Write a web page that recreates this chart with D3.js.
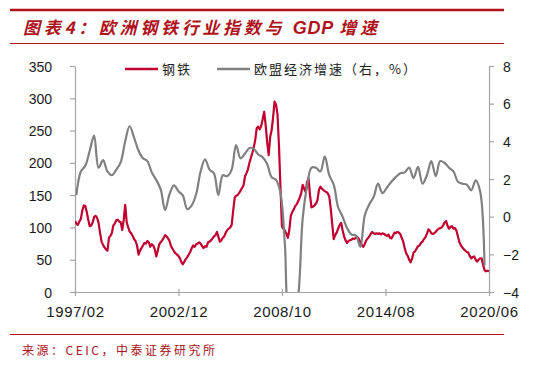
<!DOCTYPE html>
<meta charset="utf-8">
<style>
body { margin: 0; background: #fff; }
svg { font-family: "Liberation Sans", Arial, sans-serif; }
.title { fill: #b0121b; font-family: "Noto Sans CJK SC", sans-serif; font-size: 17px; font-weight: bold; font-style: italic; letter-spacing: 3.7px; }
.title .latin { font-family: "Liberation Sans", Arial, sans-serif; font-size: 18px; letter-spacing: 0.8px; }
.source { fill: #a8141c; font-family: "Noto Sans CJK SC", sans-serif; font-size: 12px; letter-spacing: 2.5px; }
.legend text { font-family: "Noto Sans CJK SC", sans-serif; font-size: 13px; fill: #222; letter-spacing: 2px; }
.axis path, .axis line { stroke: #a6a6a6; stroke-width: 1.2px; }
.axis text { fill: #1a1a1a; font-size: 14px; }
.x.axis text { font-size: 15px; letter-spacing: 0.6px; }
</style>
<svg></svg>
<script src="https://d3js.org/d3.v7.min.js"></script>
<script>

// 钢铁指数, monthly 1997/02 - 2020/06
var steelIndex = [
  110, 106, 104, 109, 113, 126, 134, 133, 124, 112, 102,       // 1997
  103, 108, 116, 118, 115, 107, 92, 78, 73, 69, 66, 64,        // 1998
  84, 87, 91, 103, 106, 111, 112, 109, 108, 96, 112, 135,      // 1999
  108, 100, 94, 91, 87, 82, 79, 72, 58, 64, 68, 72,            // 2000
  76, 75, 79, 77, 70, 74, 72, 66, 55, 64, 74, 77,              // 2001
  80, 84, 88, 86, 83, 79, 71, 67, 63, 60, 58, 56,              // 2002
  52, 46, 43, 47, 51, 54, 58, 62, 68, 72, 70, 74,              // 2003
  75, 77, 75, 71, 68, 71, 70, 77, 78, 80, 83, 86,              // 2004
  88, 93, 86, 78, 80, 84, 86, 92, 96, 98, 100, 104,            // 2005
  126, 146, 149, 150, 153, 157, 161, 165, 179, 184, 190, 200,  // 2006
  208, 216, 224, 236, 254, 256, 252, 257, 268, 279, 258, 232,  // 2007
  212, 240, 250, 270, 295, 290, 275, 225, 160, 101, 98, 95,    // 2008
  90, 84, 96, 118, 124, 128, 133, 136, 141, 146, 153, 166,     // 2009
  160, 155, 170, 176, 150, 131, 132, 134, 137, 142, 158, 163,  // 2010
  160, 158, 156, 155, 153, 148, 130, 105, 82, 88, 92, 98,      // 2011
  104, 107, 96, 86, 80, 76, 79, 80, 81, 83, 82, 84,            // 2012
  85, 82, 77, 73, 70, 74, 80, 83, 86, 90, 93, 91,              // 2013
  90, 91, 90, 91, 89, 91, 90, 88, 87, 89, 84, 83,              // 2014
  87, 92, 91, 93, 92, 90, 84, 78, 68, 60, 56, 50,              // 2015
  46, 52, 61, 63, 67, 71, 72, 76, 78, 82, 85, 90,              // 2016
  97, 95, 91, 90, 91, 93, 96, 98, 99, 100, 103, 108,           // 2017
  110, 102, 98, 101, 102, 98, 99, 95, 86, 77, 72, 69,          // 2018
  66, 64, 62, 61, 56, 52, 54, 55, 50, 47, 50, 52,              // 2019
  52, 42, 34, 32, 33, 32                                       // 2020
];

// 欧盟经济增速 (%), quarterly 1997Q1 - 2020Q1
var gdpGrowth = [
  1.15, 2.4, 2.7, 3.5,     // 1997
  4.3, 2.6, 3.0, 2.4,      // 1998
  2.2, 2.5, 2.9, 4.0,      // 1999
  4.8, 4.2, 3.5, 3.1,      // 2000
  2.95, 2.35, 1.95, 1.45,  // 2001
  0.35, 1.2, 1.66, 1.35,   // 2002
  1.13, 0.4, 0.6, 1.2,     // 2003
  2.4, 3.05, 2.5, 2.3,     // 2004
  1.15, 2.2, 2.15, 2.5,    // 2005
  3.8, 3.1, 3.35, 3.65,    // 2006
  3.6, 3.3, 3.15, 2.8,     // 2007
  2.1, 1.95, 1.25, -1.5,   // 2008
  -5.2, -5.4, -4.2, -0.1,  // 2009
  1.6, 2.6, 2.6, 2.4,      // 2010
  3.2, 2.2, 1.7, 0.5,      // 2011
  0.0, -0.6, -0.95, -1.0,  // 2012
  -1.6, 0.07, 0.65, 1.05,  // 2013
  1.75, 1.25, 1.55, 1.85,  // 2014
  2.1, 2.3, 2.35, 2.6,     // 2015
  2.05, 2.64, 1.75, 2.2,   // 2016
  2.95, 2.15, 2.95, 2.85,  // 2017
  2.6, 2.4, 1.85, 1.75,    // 2018
  1.7, 1.4, 1.93, 1.35,    // 2019
  -2.6                     // 2020
];

var xTickLabels = ['1997/02', '2002/12', '2008/10', '2014/08', '2020/06'];
var leftTicks = [0, 50, 100, 150, 200, 250, 300, 350];
var rightTicks = [-4, -2, 0, 2, 4, 6, 8];

var width = 540, height = 374;
var plot = { left: 75, right: 489, top: 66, bottom: 292 };

var svg = d3.select('svg').attr('width', width).attr('height', height);

var parse = d3.timeParse('%Y/%m');

var steelData = steelIndex.map(function (v, i) {
  return { date: new Date(1997, 1 + i, 1), value: v };
});
var gdpData = gdpGrowth.map(function (v, i) {
  return { date: new Date(1997, 2 + i * 3, 1), value: v };
});

var x = d3.scaleTime()
  .domain([parse(xTickLabels[0]), parse(xTickLabels[xTickLabels.length - 1])])
  .range([plot.left, plot.right]);
var yL = d3.scaleLinear().domain([0, 350]).range([plot.bottom, plot.top]);
var yR = d3.scaleLinear().domain([-4, 8]).range([plot.bottom, plot.top]);

// header
svg.append('line')
  .attr('x1', 10).attr('x2', 504).attr('y1', 10).attr('y2', 10)
  .attr('stroke', '#b0121b').attr('stroke-width', 2.5);
var title = svg.append('text').attr('class', 'title')
  .attr('x', 23).attr('y', 34);
title.append('tspan').text('图表4：欧洲钢铁行业指数与 ');
title.append('tspan').attr('class', 'latin').text('GDP ');
title.append('tspan').text('增速');
svg.append('line')
  .attr('x1', 10).attr('x2', 504).attr('y1', 43.5).attr('y2', 43.5)
  .attr('stroke', '#b0121b').attr('stroke-width', 1);

// footer
svg.append('line')
  .attr('x1', 10).attr('x2', 504).attr('y1', 334.5).attr('y2', 334.5)
  .attr('stroke', '#b0121b').attr('stroke-width', 1);
svg.append('text').attr('class', 'source')
  .attr('x', 22).attr('y', 355)
  .text('来源：CEIC，中泰证券研究所');

// axes
svg.append('g')
  .attr('class', 'y axis')
  .attr('transform', 'translate(' + plot.left + ',0)')
  .call(d3.axisLeft(yL).tickValues(leftTicks).tickSize(5).tickSizeOuter(0).tickPadding(18))
  .call(function (g) { g.selectAll('text').attr('dy', '0.36em'); });

svg.append('g')
  .attr('class', 'y axis')
  .attr('transform', 'translate(' + plot.right + ',0)')
  .call(d3.axisRight(yR).tickValues(rightTicks).tickSize(5).tickSizeOuter(0).tickPadding(9))
  .call(function (g) { g.selectAll('text').attr('dy', '0.36em'); });

var xAxis = svg.append('g')
  .attr('class', 'x axis')
  .attr('transform', 'translate(0,' + plot.bottom + ')')
  .call(d3.axisBottom(x)
    .tickValues(xTickLabels.map(parse))
    .tickFormat(d3.timeFormat('%Y/%m'))
    .tickSize(4).tickSizeOuter(0).tickPadding(10));
xAxis.selectAll('.tick line').attr('y1', -3);
xAxis.select('.domain').attr('d', 'M' + (plot.left - 5) + ',0.5H' + (plot.right + 5));

// clip
svg.append('clipPath').attr('id', 'plotClip')
  .append('rect')
  .attr('x', plot.left).attr('y', plot.top - 10)
  .attr('width', plot.right - plot.left + 5).attr('height', plot.bottom - plot.top + 10);

var lines = svg.append('g').attr('clip-path', 'url(#plotClip)');

lines.append('path')
  .datum(steelData)
  .attr('fill', 'none')
  .attr('stroke', '#c0002f')
  .attr('stroke-width', 2.2)
  .attr('stroke-linejoin', 'round')
  .attr('d', d3.line()
    .x(function (d) { return x(d.date); })
    .y(function (d) { return yL(d.value); }));

lines.append('path')
  .datum(gdpData)
  .attr('fill', 'none')
  .attr('stroke', '#808080')
  .attr('stroke-width', 2.2)
  .attr('d', d3.line()
    .curve(d3.curveCatmullRom.alpha(0.5))
    .x(function (d) { return x(d.date); })
    .y(function (d) { return yR(d.value); }));

// legend
var legend = svg.append('g').attr('class', 'legend');
var legendItems = [
  { name: '钢铁', color: '#c0002f', x: 125 },
  { name: '欧盟经济增速（右，%）', color: '#808080', x: 217 }
];
legendItems.forEach(function (d) {
  legend.append('line')
    .attr('x1', d.x).attr('x2', d.x + 33).attr('y1', 69).attr('y2', 69)
    .attr('stroke', d.color).attr('stroke-width', 2.5);
  legend.append('text')
    .attr('x', d.x + 37).attr('y', 74)
    .text(d.name);
});

</script>
